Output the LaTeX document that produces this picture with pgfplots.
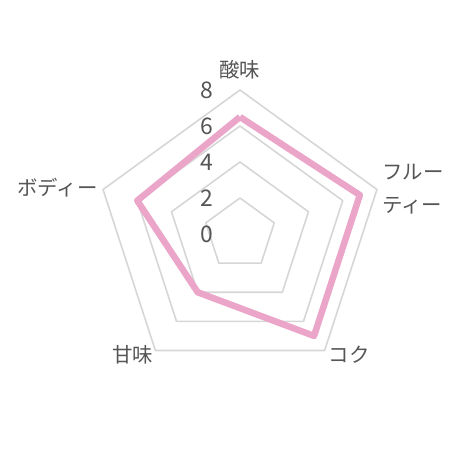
\documentclass[border=0pt]{standalone}
\usepackage{fontspec}
\setmainfont{Noto Sans CJK JP}
\usepackage{pgfplots}
\pgfplotsset{compat=1.18}
\usepgfplotslibrary{polar}
\definecolor{pinkline}{HTML}{EBA5C9}
\definecolor{gridgray}{HTML}{D6D6D6}
\definecolor{txt}{HTML}{555555}
\tikzset{catlabel/.style={font=\fontsize{20.5}{24}\selectfont, text=txt, inner sep=0pt}}
\tikzset{ticklabel/.style={anchor=east, text=txt, font=\fontsize{23}{26}\selectfont, inner sep=0pt, xshift=-27bp}}

\begin{document}
\begin{tikzpicture}
\useasboundingbox (-240bp,-226bp) rectangle (220bp,234bp);
\begin{polaraxis}[
    anchor=origin,
    at={(0,0)},
    scale only axis,
    width=288bp, height=288bp,
    ymin=0, ymax=8,
    hide axis,
    clip=false,
    every axis plot/.style={line join=round},
]
% pentagon grid at 2, 4, 6, 8
\addplot[gridgray, line width=1.6bp] coordinates {(90,2) (18,2) (-54,2) (234,2) (162,2) (90,2)};
\addplot[gridgray, line width=1.6bp] coordinates {(90,4) (18,4) (-54,4) (234,4) (162,4) (90,4)};
\addplot[gridgray, line width=1.6bp] coordinates {(90,6) (18,6) (-54,6) (234,6) (162,6) (90,6)};
\addplot[gridgray, line width=1.6bp] coordinates {(90,8) (18,8) (-54,8) (234,8) (162,8) (90,8)};

% values
\addplot[pinkline, line width=6.5bp] coordinates {(90,6.5) (18,7) (-54,7) (234,4) (162,6) (90,6.5)};

% radial tick labels
\node[ticklabel] at (axis cs:90,0) {0};
\node[ticklabel] at (axis cs:90,2) {2};
\node[ticklabel] at (axis cs:90,4) {4};
\node[ticklabel] at (axis cs:90,6) {6};
\node[ticklabel] at (axis cs:90,8) {8};

% category labels
\node[catlabel, anchor=south, yshift=11bp] at (axis cs:90,8) {酸味};
\node[catlabel, anchor=west, xshift=5bp, align=left, font=\fontsize{20.5}{33}\selectfont] at (axis cs:18,8) {フルー\\ティー};
\node[catlabel, anchor=west, xshift=4bp, yshift=-4bp] at (axis cs:-54,8) {コク};
\node[catlabel, anchor=east, xshift=-2bp, yshift=-4bp] at (axis cs:234,8) {甘味};
\node[catlabel, anchor=east, xshift=-5bp, yshift=2bp] at (axis cs:162,8) {ボディー};
\end{polaraxis}
\end{tikzpicture}
\end{document}
